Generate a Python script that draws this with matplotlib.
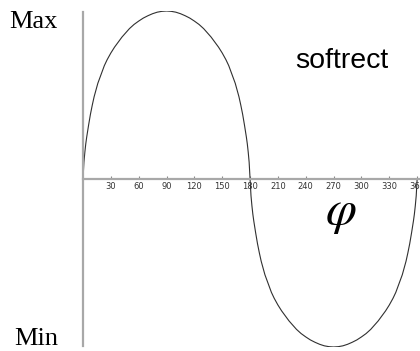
import matplotlib
matplotlib.use('Agg')
import matplotlib.pyplot as plt

# 相位角 (度) 与 softrect 波形值 (读图估计, -1..1)
phi_deg = [0, 1, 2, 3, 4, 6, 8, 10, 12, 14, 16, 18, 20, 23, 26, 30, 34, 38, 42, 46, 50, 55, 60, 65, 70, 75, 80, 85, 90,
           95, 100, 105, 110, 115, 120, 125, 130, 134, 138, 142, 146, 150, 154, 157, 160, 162, 164, 166, 168, 170,
           172, 174, 176, 177, 178, 179, 180,
           181, 182, 183, 184, 186, 188, 190, 192, 194, 196, 198, 200, 203, 206, 210, 214, 218, 222, 226, 230,
           235, 240, 245, 250, 255, 260, 265, 270,
           275, 280, 285, 290, 295, 300, 305, 310, 314, 318, 322, 326, 330, 334, 337, 340, 342, 344, 346, 348,
           350, 352, 354, 356, 357, 358, 359, 360]
wave = [0, 0.10, 0.16, 0.21, 0.25, 0.32, 0.385, 0.44, 0.49, 0.53, 0.57, 0.60, 0.63, 0.675, 0.71, 0.75, 0.785,
        0.815, 0.845, 0.87, 0.895, 0.92, 0.94, 0.958, 0.972, 0.984, 0.993, 0.998, 1.0,
        0.998, 0.993, 0.984, 0.972, 0.958, 0.94, 0.92, 0.895, 0.87, 0.845, 0.815, 0.785, 0.75, 0.71, 0.675,
        0.63, 0.60, 0.57, 0.53, 0.49, 0.44, 0.385, 0.32, 0.25, 0.21, 0.16, 0.10, 0,
        -0.10, -0.16, -0.21, -0.25, -0.32, -0.385, -0.44, -0.49, -0.53, -0.57, -0.60, -0.63, -0.675, -0.71,
        -0.75, -0.785, -0.815, -0.845, -0.87, -0.895, -0.92, -0.94, -0.958, -0.972, -0.984, -0.993, -0.998, -1.0,
        -0.998, -0.993, -0.984, -0.972, -0.958, -0.94, -0.92, -0.895, -0.87, -0.845, -0.815, -0.785, -0.75,
        -0.71, -0.675, -0.63, -0.60, -0.57, -0.53, -0.49, -0.44, -0.385, -0.32, -0.25, -0.21, -0.16, -0.10, 0]
tick_vals = [30, 60, 90, 120, 150, 180, 210, 240, 270, 300, 330, 360]

plt.rcParams['mathtext.fontset'] = 'stix'
W, H = 420, 351
fig = plt.figure(figsize=(W / 100, H / 100), dpi=100)
ax = fig.add_axes([83 / W, 4 / H, 336 / W, 336 / H])

axis_col = '#a8a8a8'
ax.plot(phi_deg, wave, color='#303030', lw=0.8)
ax.set_xlim(0, 362)
ax.set_ylim(-1.0, 1.0)

for s in ['top', 'right']:
    ax.spines[s].set_visible(False)
ax.spines['bottom'].set_position(('data', 0))
ax.spines['bottom'].set_color(axis_col)
ax.spines['bottom'].set_linewidth(1.6)
ax.spines['left'].set_color(axis_col)
ax.spines['left'].set_linewidth(1.6)
ax.spines['left'].set_bounds(-0.995, 0.995)

ax.set_yticks([])
ax.set_xticks(tick_vals)
ax.set_xticklabels([str(t) for t in tick_vals],
                   fontfamily=['Liberation Sans Narrow', 'DejaVu Sans'], fontsize=6, color='#333333')
ax.tick_params(axis='x', direction='in', length=2.5, width=0.8, color='#888888', pad=2)

fig.text(9 / W, 1 - 28 / H, 'Max', family='Liberation Serif', fontsize=19, va='baseline', ha='left')
fig.text(14 / W, 1 - 345 / H, 'Min', family='Liberation Serif', fontsize=19, va='baseline', ha='left')
fig.text(295 / W, 1 - 68 / H, 'softrect', family='Liberation Sans', fontsize=20.5, va='baseline', ha='left')
fig.text(341 / W, 1 - 212 / H, r'$\varphi$', fontsize=36, va='center', ha='center')

fig.savefig('out.png', dpi=100)
